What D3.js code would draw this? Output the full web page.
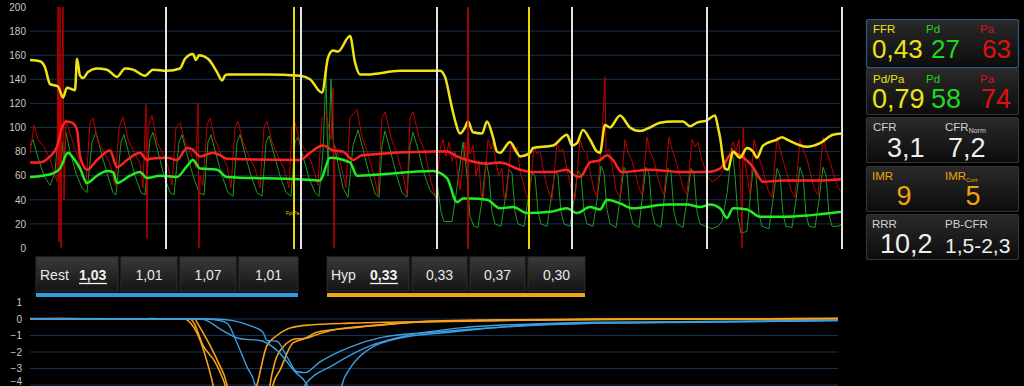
<!DOCTYPE html>
<html><head><meta charset="utf-8">
<script src="https://cdn.jsdelivr.net/npm/d3@7"></script>
<style>
html,body{margin:0;padding:0;background:#000;}
svg{display:block;}
</style></head><body>
<svg id="c" width="1024" height="386"></svg>
<script>
// ---------------- DATA ----------------
// top chart: time in samples, pressure in mmHg
const topTicks = [0,20,40,60,80,100,120,140,160,180,200];
const topGrid = [20,40,60,80,100,120,140,160,180];
const whiteMarks = [136,271,407,542,677,812];
const yellowMarks = [264,499];
const redMarks = [438];

const yellowMean = [[0,156],[10,155],[15,150],[20,136],[28,134],[33,125],[37,133],[45,131],[47,157],[50,143],[53,141],[58,146],[67,149],[77,148],[87,142],[95,149],[103,148],[115,143],[123,148],[137,147],[150,149],[155,157],[163,161],[166,156],[169,160],[178,157],[187,146],[192,139],[195,143],[197,144],[203,144],[237,144],[270,143],[280,140],[292,129],[298,158],[303,164],[308,163],[320,176],[325,154],[330,144],[337,144],[370,147],[410,147],[415,142],[421,120],[425,106],[430,95],[435,100],[438,105],[443,96],[452,95],[457,105],[463,92],[467,80],[470,79],[480,88],[487,79],[490,76],[500,79],[503,83],[523,85],[537,94],[542,85],[547,87],[553,98],[560,90],[567,80],[570,79],[575,102],[580,100],[590,110],[600,100],[610,97],[620,100],[630,104],[643,105],[653,105],[660,101],[667,104],[677,106],[685,110],[688,100],[690,92],[695,66],[698,65],[703,80],[710,75],[717,83],[723,80],[727,75],[733,85],[747,90],[752,92],[757,90],[777,84],[790,87],[803,94],[812,95]];

const paMean = [[0,71],[10,71],[20,76],[27,84],[32,100],[36,105],[42,104],[47,98],[50,76],[57,65],[67,73],[80,81],[87,67],[97,73],[110,79],[117,73],[120,74],[137,75],[147,73],[157,83],[162,82],[170,76],[183,79],[190,77],[197,74],[270,73],[280,79],[293,85],[303,81],[313,80],[323,73],[332,77],[403,80],[417,80],[427,76],[437,73],[457,70],[470,71],[490,65],[503,63],[523,63],[537,65],[543,61],[550,59],[560,71],[570,73],[577,77],[583,73],[592,63],[620,65],[653,63],[677,63],[690,66],[703,79],[710,77],[723,67],[733,55],[753,56],[787,56],[812,57]];

const pdMean = [[0,59],[13,60],[23,62],[30,66],[38,79],[43,75],[50,66],[57,54],[67,60],[77,64],[83,63],[87,54],[100,60],[110,63],[117,58],[130,60],[147,59],[157,68],[163,73],[170,66],[187,65],[197,59],[270,57],[290,56],[300,75],[320,71],[327,60],[403,64],[417,58],[427,38],[433,41],[440,41],[457,40],[470,33],[483,34],[497,29],[520,30],[537,33],[547,29],[560,34],[570,32],[577,40],[590,37],[603,33],[637,36],[657,36],[670,34],[680,36],[690,33],[697,25],[703,33],[717,32],[730,26],[753,26],[777,27],[790,28],[812,30]];

const paPhasic = [[0,78],[4,102],[8,90],[14,84],[20,74],[25,60],[27,55],[28,200],[29,5],[30,200],[31,0],[32,150],[33,200],[34,40],[36,106],[40,95],[44,85],[48,75],[52,62],[56,52],
[60,104],[63,108],[68,88],[74,80],[80,70],[85,52],
[89,100],[93,109],[98,90],[104,80],[110,70],[113,50],
[116,119],[117,8],[118,100],[122,110],[127,88],[133,78],[138,68],[142,52],
[146,100],[150,104],[155,88],[161,78],[166,66],[168,120],[169,0],[170,60],[173,52],
[177,102],[180,108],[185,90],[191,78],[197,68],[201,50],
[205,100],[208,105],[213,88],[219,76],[225,66],[230,50],
[234,100],[237,105],[242,88],[248,76],[254,66],[259,50],
[262,100],[265,104],[270,88],[276,80],[282,70],[288,52],
[292,108],[296,112],[301,90],[303,133],[304,0],[305,85],[310,72],[316,50],
[320,108],[327,115],[332,92],[338,78],[344,60],[348,44],
[352,108],[355,113],[361,92],[367,78],[373,60],[377,44],
[380,108],[383,113],[389,92],[395,80],[401,55],[406,41],
[410,82],[413,90],[416,76],[419,88],[422,72],[425,80],[428,60],[430,48],
[435,88],[437,70],[438,95],[440,78],[443,85],[446,60],[449,72],[451,45],[453,40],
[458,90],[461,82],[463,88],[466,70],[469,60],[472,66],[474,42],[476,40],
[481,86],[484,80],[487,84],[490,64],[493,55],[496,45],[499,40],
[504,84],[507,78],[510,80],[514,62],[518,48],[522,40],
[527,88],[530,80],[533,82],[537,65],[541,50],[545,40],
[550,90],[553,82],[557,78],[560,64],[564,48],[567,42],
[572,92],[575,142],[576,80],[579,82],[583,64],[586,48],[590,42],
[595,90],[598,80],[602,72],[606,60],[609,50],[612,44],
[617,92],[620,80],[624,72],[628,58],[631,50],[634,44],
[639,92],[642,82],[646,72],[650,60],[653,50],[657,44],
[662,90],[665,84],[668,88],[671,76],[674,68],[677,60],[682,55],[688,58],[692,62],[697,72],
[703,88],[706,80],[709,90],[711,40],[712,0],[713,100],[715,70],[718,55],[720,44],
[724,90],[727,80],[731,70],[735,58],[738,48],[742,42],
[747,92],[750,82],[754,70],[758,58],[761,48],[765,42],
[770,90],[773,82],[777,74],[781,60],[784,50],[788,44],
[793,92],[796,82],[800,72],[804,60],[808,50],[812,46]];

const pdPhasic = [[0,85],[3,90],[8,75],[14,60],[20,52],[25,62],[28,94],[32,88],[34,70],[36,96],[40,80],[46,62],[52,50],[57,46],
[62,88],[66,96],[71,80],[77,62],[83,46],[86,44],
[91,88],[94,94],[99,78],[105,60],[111,46],[115,44],
[120,90],[123,96],[128,80],[134,60],[140,46],[144,44],
[149,88],[152,94],[157,78],[163,60],[169,46],[174,44],
[178,88],[181,94],[186,78],[192,60],[198,46],[203,43],
[207,88],[210,94],[215,78],[221,60],[227,46],[232,43],
[236,88],[239,93],[244,78],[250,60],[256,46],[261,43],
[265,88],[268,92],[273,76],[279,58],[285,46],[289,43],
[293,80],[296,146],[298,60],[301,140],[303,90],[308,70],[313,50],[318,42],
[323,85],[328,98],[333,82],[339,62],[345,45],[349,42],
[352,85],[355,97],[360,82],[366,62],[372,46],[377,42],
[380,85],[383,96],[388,82],[394,62],[400,48],[406,42],
[407,55],[411,30],[414,22],[422,22],[427,50],[433,88],[437,60],[440,26],[444,18],[448,17],
[452,40],[456,72],[459,60],[462,30],[465,20],[471,18],
[475,40],[479,65],[482,62],[485,30],[488,20],[494,18],
[498,40],[502,62],[505,60],[508,30],[511,20],[517,18],
[521,40],[525,64],[528,60],[531,30],[534,20],[540,18],
[544,40],[548,64],[551,60],[554,30],[557,20],[563,18],
[567,40],[571,68],[574,62],[577,32],[580,20],[586,17],
[590,40],[594,67],[597,62],[600,30],[603,20],[609,17],
[612,40],[616,67],[619,62],[622,30],[625,20],[631,17],
[634,40],[638,66],[641,62],[644,30],[647,20],[653,17],
[657,40],[661,66],[664,62],[667,30],[670,20],[676,18],[682,16],[688,18],[692,22],
[697,45],[702,83],[705,60],[708,25],[711,12],[717,14],
[720,40],[723,66],[726,60],[729,28],[732,18],[739,16],
[743,40],[747,66],[750,60],[753,28],[756,18],[762,17],
[766,40],[770,67],[773,60],[776,28],[779,18],[785,17],
[789,40],[793,67],[796,60],[799,28],[802,18],[808,18],[812,20]];

// bottom chart: thermodilution curves
const botTicks = [1,0,-1,-2,-3,-4];
const botGrid = [0,-1,-2,-3,-4];
const hypCurves = [
 [[0,0],[30,0.02],[70,0],[120,0.02],[155,0],[158,-0.1],[170,-1.27],[178,-2.8],[183,-4],[186,-5],[222,-5],[227,-4],[237,-1.6],[247,-1],[260,-0.55],[280,-0.36],[320,-0.25],[370,-0.18],[420,-0.12],[470,-0.08],[570,-0.03],[670,0],[808,0.03]],
 [[0,0.02],[160,0],[163,-0.15],[173,-1.6],[185,-2.6],[192,-3.5],[195,-4],[198,-5],[238,-5],[240,-4],[245,-2.6],[253,-1.7],[267,-1.2],[272,-1.2],[287,-0.8],[320,-0.55],[370,-0.25],[420,-0.15],[470,-0.1],[570,-0.02],[808,0.02]],
 [[0,0],[165,0],[167,-0.2],[180,-1.6],[188,-2.6],[197,-4],[200,-5],[241,-5],[243,-4],[250,-3.1],[263,-1.45],[277,-1.15],[303,-0.67],[353,-0.36],[403,-0.12],[470,-0.05],[570,0],[808,0.02]]
];
const restCurves = [
 [[0,0],[175,0],[185,-0.05],[197,-0.25],[207,-1.45],[217,-2.9],[225,-4],[228,-5],[272,-5],[275,-4],[303,-2.8],[337,-1.7],[370,-1.1],[437,-0.5],[503,-0.3],[570,-0.2],[670,-0.15],[808,-0.08]],
 [[0,0],[185,0],[203,-0.1],[220,-0.4],[233,-0.8],[237,-1.3],[247,-1.35],[257,-2.3],[267,-3.2],[275,-3.25],[290,-2.6],[320,-1.7],[353,-1.1],[403,-0.8],[470,-0.5],[570,-0.25],[670,-0.18],[808,-0.1]],
 [[0,0],[170,0],[175,-0.05],[190,-0.6],[210,-1.2],[230,-1.3],[247,-1.9],[265,-3.2],[277,-4],[280,-5],[309,-5],[312,-4],[320,-3],[333,-2.1],[370,-1.15],[420,-0.8],[503,-0.35],[570,-0.25],[670,-0.2],[808,-0.1]]
];

// ratio buttons
const restLabel = "Rest", restValues = ["1,03","1,01","1,07","1,01"];
const hypLabel = "Hyp", hypValues = ["0,33","0,33","0,37","0,30"];

// side panel
const ffrVals = ["0,43","27","63"];
const pdpaVals = ["0,79","58","74"];
const cfrVals = ["3,1","7,2"];
const imrVals = ["9","5"];
const rrrVals = ["10,2","1,5-2,3"];

// ---------------- DRAW ----------------
const svg = d3.select('#c');
const FONT = '"Liberation Sans", Arial, sans-serif';
const NARROW = '"Liberation Sans Narrow", "Arial Narrow", "Liberation Sans", sans-serif';

const defs = svg.append('defs');
const g1 = defs.append('linearGradient').attr('id','boxg').attr('x1',0).attr('y1',0).attr('x2',0).attr('y2',1);
g1.append('stop').attr('offset','0%').attr('stop-color','#2a2a2a');
g1.append('stop').attr('offset','100%').attr('stop-color','#0c0c0c');
const g2 = defs.append('linearGradient').attr('id','btng').attr('x1',0).attr('y1',0).attr('x2',0).attr('y2',1);
g2.append('stop').attr('offset','0%').attr('stop-color','#3a3a3a');
g2.append('stop').attr('offset','100%').attr('stop-color','#141414');
defs.append('clipPath').attr('id','topclip').append('rect').attr('x',30).attr('y',5).attr('width',814).attr('height',245);
defs.append('clipPath').attr('id','botclip').append('rect').attr('x',30).attr('y',296).attr('width',810).attr('height',90);

const x = d3.scaleLinear().domain([0,812]).range([30,842]);
const y = d3.scaleLinear().domain([0,200]).range([248,7]);
const xb = d3.scaleLinear().domain([0,808]).range([30,838]);
const yb = d3.scaleLinear().domain([1,-4]).range([302.5,385]);

// grid top
svg.append('g').selectAll('line').data(topGrid).join('line')
  .attr('x1',30).attr('x2',840).attr('y1',d=>y(d)).attr('y2',d=>y(d))
  .attr('stroke','#173250').attr('stroke-width',1);
// axis top
const ax = svg.append('g').attr('transform','translate(28,0)')
  .call(d3.axisLeft(y).tickValues(topTicks).tickSize(0).tickPadding(2));
ax.select('.domain').remove();
ax.selectAll('text').attr('fill','#c8c8c8').style('font-family',FONT).style('font-size','10px');

const lineT = d3.line().x(d=>x(d[0])).y(d=>y(d[1]));
const lineS = d3.line().x(d=>x(d[0])).y(d=>y(d[1])).curve(d3.curveMonotoneX);
const plot = svg.append('g').attr('clip-path','url(#topclip)');
plot.append('path').datum(pdPhasic).attr('d',lineT).attr('fill','none').attr('stroke','#1f9a1f').attr('stroke-width',1);
plot.append('path').datum(paPhasic).attr('d',lineT).attr('fill','none').attr('stroke','#c00000').attr('stroke-width',1);
plot.append('path').datum(pdMean).attr('d',lineS).attr('fill','none').attr('stroke','#22ee22').attr('stroke-width',2.5);
plot.append('path').datum(paMean).attr('d',lineS).attr('fill','none').attr('stroke','#ff2222').attr('stroke-width',2.5);
plot.append('path').datum(yellowMean).attr('d',lineS).attr('fill','none').attr('stroke','#f0e314').attr('stroke-width',2.5);

// markers
svg.append('g').selectAll('line').data(whiteMarks).join('line')
  .attr('x1',d=>x(d)).attr('x2',d=>x(d)).attr('y1',y(200)).attr('y2',y(0)+1)
  .attr('stroke','#e4e4e4').attr('stroke-width',2);
svg.append('g').selectAll('line').data(yellowMarks).join('line')
  .attr('x1',d=>x(d)).attr('x2',d=>x(d)).attr('y1',y(200)).attr('y2',y(0)+1)
  .attr('stroke','#e6dc00').attr('stroke-width',2);
svg.append('g').selectAll('line').data(redMarks).join('line')
  .attr('x1',d=>x(d)).attr('x2',d=>x(d)).attr('y1',y(200)).attr('y2',y(0)+1)
  .attr('stroke','#dd0000').attr('stroke-width',1.5);
svg.append('text').attr('x',x(256)).attr('y',215).text('Fp/Pa')
  .attr('fill','#d8d000').style('font-family',FONT).style('font-size','5px');

// bottom chart
svg.append('g').selectAll('line').data(botGrid).join('line')
  .attr('x1',30).attr('x2',838).attr('y1',d=>yb(d)).attr('y2',d=>yb(d))
  .attr('stroke','#173250').attr('stroke-width',1);
const bx = svg.append('g').attr('transform','translate(24,0)')
  .call(d3.axisLeft(yb).tickValues(botTicks).tickFormat(d3.format('d')).tickSize(0).tickPadding(2));
bx.select('.domain').remove();
bx.selectAll('text').attr('fill','#c8c8c8').style('font-family',FONT).style('font-size','10px');
// keep the lowest label inside the frame
bx.selectAll('.tick').filter(d=>d===-4).select('text').attr('dy','-0.05em');
const lineB = d3.line().x(d=>xb(d[0])).y(d=>yb(d[1])).curve(d3.curveMonotoneX);
const bplot = svg.append('g').attr('clip-path','url(#botclip)');
bplot.selectAll('path.h').data(hypCurves).join('path').attr('class','h').attr('d',lineB)
  .attr('fill','none').attr('stroke','#f7a21b').attr('stroke-width',1.6);
bplot.selectAll('path.r').data(restCurves).join('path').attr('class','r').attr('d',lineB)
  .attr('fill','none').attr('stroke','#3a9ee0').attr('stroke-width',1.4);

// buttons
function buttonBar(x0, label, vals, widths, color){
  const g = svg.append('g');
  g.append('rect').attr('x',x0).attr('y',256).attr('width',d3.sum(widths)+3*(widths.length-1)).attr('height',37).attr('fill','#0e0e0e');
  let cx = x0;
  widths.forEach((w,i)=>{
    g.append('rect').attr('x',cx).attr('y',257).attr('width',w).attr('height',34)
      .attr('fill','url(#btng)').attr('stroke','#2c2c2c').attr('stroke-width',1);
    if(i===0){
      g.append('text').attr('x',cx+4).attr('y',280).text(label).attr('fill','#e8e8e8')
        .style('font-family',FONT).style('font-size','14px');
      g.append('text').attr('x',cx+43).attr('y',280).text(vals[0]).attr('fill','#f2f2f2')
        .style('font-family',FONT).style('font-size','14px').style('font-weight','bold');
      g.append('line').attr('x1',cx+43).attr('x2',cx+71).attr('y1',283.5).attr('y2',283.5).attr('stroke','#f2f2f2').attr('stroke-width',1.3);
    } else {
      g.append('text').attr('x',cx+w/2).attr('y',280).attr('text-anchor','middle').text(vals[i]).attr('fill','#e8e8e8')
        .style('font-family',FONT).style('font-size','14px');
    }
    cx += w+3;
  });
  g.append('rect').attr('x',x0).attr('y',293).attr('width',cx-3-x0).attr('height',4).attr('fill',color);
}
buttonBar(36, restLabel, restValues, [82,56,56,59], '#2f9be2');
buttonBar(327, hypLabel, hypValues, [82,55,55,57], '#f2a418');

// side panel
function box(y0,h,border){
  svg.append('rect').attr('x',866.5).attr('y',y0+0.5).attr('width',152).attr('height',h)
    .attr('rx',2).attr('fill','url(#boxg)').attr('stroke',border).attr('stroke-width',1.2);
}
function txt(xp,yp,s,col,size,font,anchor){
  return svg.append('text').attr('x',xp).attr('y',yp).text(s).attr('fill',col)
    .attr('text-anchor',anchor||'start').style('font-family',font).style('font-size',size+'px');
}
const YEL='#ece21a', GRN='#1ed81e', RED='#e01010', WHT='#eeeeee', GRY='#d0d0d0', ORG='#f2a20c';
box(19,48,'#2b5b8a');
txt(873,33,'FFR',YEL,11.5,FONT); txt(926,33,'Pd',GRN,11.5,FONT); txt(980,33,'Pa',RED,11.5,FONT);
txt(872,58,ffrVals[0],YEL,26,NARROW); txt(931,58,ffrVals[1],GRN,26,NARROW); txt(1011,58,ffrVals[2],RED,26,NARROW,'end');
box(68,46,'#333');
txt(873,83,'Pd/Pa',YEL,11.5,FONT); txt(926,83,'Pd',GRN,11.5,FONT); txt(980,83,'Pa',RED,11.5,FONT);
txt(872,108,pdpaVals[0],YEL,27,NARROW); txt(931,108,pdpaVals[1],GRN,27,NARROW); txt(1011,108,pdpaVals[2],RED,27,NARROW,'end');
box(117,45,'#333');
txt(873,131,'CFR',GRY,11.5,FONT);
const cn = txt(945,131,'CFR',GRY,11.5,FONT); cn.append('tspan').attr('dy',2).style('font-size','7px').text('Norm');
txt(887,157,cfrVals[0],WHT,27,NARROW); txt(948,157,cfrVals[1],WHT,27,NARROW);
box(166,45,'#333');
txt(872,180,'IMR',ORG,11.5,FONT);
const ic = txt(945,180,'IMR',ORG,11.5,FONT); ic.append('tspan').attr('dy',2).style('font-size','6px').text('Corr');
txt(904,205,imrVals[0],ORG,27,NARROW,'middle'); txt(973,205,imrVals[1],ORG,27,NARROW,'middle');
box(214,45,'#333');
txt(872,228,'RRR',GRY,11.5,FONT); txt(945,228,'PB-CFR',GRY,11.5,FONT);
txt(880,253,rrrVals[0],WHT,27,NARROW); txt(945,253,rrrVals[1],WHT,21,NARROW);
</script></body></html>
